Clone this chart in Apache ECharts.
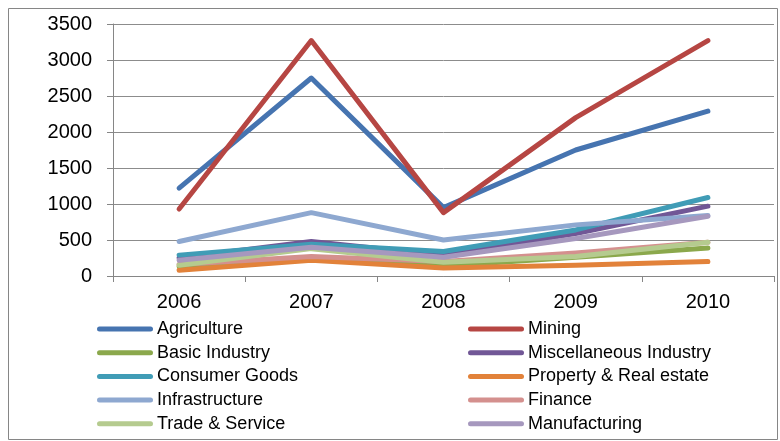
<!DOCTYPE html>
<html>
<head>
<meta charset="utf-8">
<script src="https://cdn.jsdelivr.net/npm/echarts@6/dist/echarts.min.js"></script>
<style>
html,body{margin:0;padding:0;background:#fff;}
#chart{width:780px;height:441px;}
</style>
</head>
<body>
<div id="chart"></div>
<script>
const years = ['2006', '2007', '2008', '2009', '2010'];
const agriculture = [1220, 2750, 950, 1750, 2290];
const mining = [930, 3270, 880, 2200, 3270];
const basicIndustry = [130, 240, 140, 260, 390];
const miscIndustry = [250, 480, 290, 590, 970];
const consumerGoods = [290, 440, 340, 640, 1090];
const propertyRealEstate = [80, 220, 110, 150, 200];
const infrastructure = [480, 880, 500, 710, 840];
const finance = [160, 270, 200, 320, 470];
const tradeService = [150, 380, 190, 270, 470];
const manufacturing = [220, 400, 260, 520, 830];
const yTicks = [0, 500, 1000, 1500, 2000, 2500, 3000, 3500];

const seriesDefs = [
  ['Agriculture', agriculture, '#4674B0'],
  ['Mining', mining, '#B64643'],
  ['Basic Industry', basicIndustry, '#8BA84C'],
  ['Miscellaneous Industry', miscIndustry, '#715796'],
  ['Consumer Goods', consumerGoods, '#409CB6'],
  ['Property & Real estate', propertyRealEstate, '#E2823A'],
  ['Infrastructure', infrastructure, '#8EA8D0'],
  ['Finance', finance, '#D4908E'],
  ['Trade & Service', tradeService, '#B5CB8F'],
  ['Manufacturing', manufacturing, '#A698BE']
];

const FONT = "'Liberation Sans', Arial, sans-serif";
const chart = echarts.init(document.getElementById('chart'), null, {renderer: 'canvas'});

const legendCommon = {
  orient: 'vertical',
  icon: 'path://M2.5,0 L53.5,0 A2.5,2.5 0 0 1 53.5,5 L2.5,5 A2.5,2.5 0 0 1 2.5,0 Z',
  itemWidth: 56,
  itemHeight: 5,
  itemGap: 5.7,
  padding: 0,
  height: 140,
  selectedMode: false,
  textStyle: {fontFamily: FONT, fontSize: 18, lineHeight: 18, color: '#000', padding: [0, 0, 0, -1]}
};

chart.setOption({
  animation: false,
  backgroundColor: '#fff',
  graphic: [{
    type: 'rect',
    shape: {x: 8.5, y: 8.5, width: 769, height: 431},
    style: {fill: 'none', stroke: '#868686', lineWidth: 1},
    silent: true, z: -10
  }],
  legend: [
    Object.assign({}, legendCommon, {left: 97, top: 320, data: seriesDefs.filter((d, i) => i % 2 === 0).map(d => d[0])}),
    Object.assign({}, legendCommon, {left: 468, top: 320, data: seriesDefs.filter((d, i) => i % 2 === 1).map(d => d[0])})
  ],
  grid: {left: 113, right: 6, top: 24, bottom: 165, containLabel: false},
  xAxis: {
    type: 'category',
    data: years,
    boundaryGap: true,
    axisLine: {show: true, lineStyle: {color: '#868686', width: 1}},
    axisTick: {show: true, length: 6, interval: 0, lineStyle: {color: '#868686'}},
    axisLabel: {fontFamily: FONT, fontSize: 20, color: '#000', margin: 16}
  },
  yAxis: {
    type: 'value',
    min: 0, max: 3500, interval: 500,
    axisLine: {show: true, lineStyle: {color: '#868686', width: 1}},
    axisTick: {show: true, length: 6, lineStyle: {color: '#868686'}},
    axisLabel: {fontFamily: FONT, fontSize: 20, color: '#000', margin: 21,
      formatter: v => yTicks.includes(v) ? String(v) : ''},
    splitLine: {show: true, lineStyle: {color: '#8c8c8c', width: 1}}
  },
  series: seriesDefs.map(d => ({
    name: d[0],
    type: 'line',
    data: d[1],
    color: d[2],
    symbol: 'none',
    showSymbol: false,
    lineStyle: {width: 5, color: d[2], cap: 'round', join: 'round'},
    itemStyle: {color: d[2]},
    emphasis: {disabled: true}
  }))
});
</script>
</body>
</html>
